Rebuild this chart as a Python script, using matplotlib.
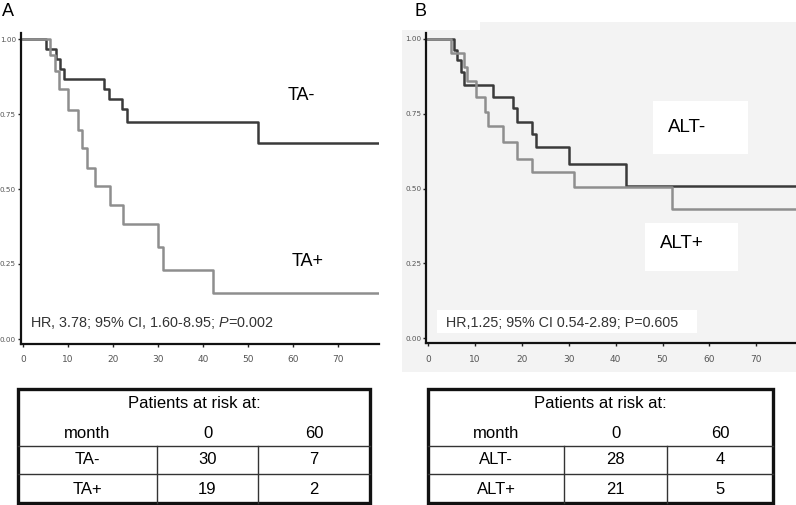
import matplotlib
matplotlib.use("Agg")
import matplotlib.pyplot as plt
from matplotlib.patches import Rectangle, Polygon

# ---------------- data ----------------
ta_neg_t = [0, 5, 7.3, 8.2, 9, 18, 19, 22, 23, 52.3, 79]
ta_neg_s = [1.0, 0.967, 0.933, 0.900, 0.867, 0.833, 0.800, 0.767, 0.724, 0.652, 0.652]
ta_pos_t = [0, 6, 7.1, 8.1, 10, 12.3, 13.2, 14.3, 16.1, 19.3, 22.3, 30.1, 31.2, 42.3, 79]
ta_pos_s = [1.0, 0.947, 0.895, 0.835, 0.765, 0.698, 0.636, 0.570, 0.510, 0.446, 0.382, 0.306, 0.229, 0.152, 0.152]

alt_neg_t = [0, 5.5, 6.1, 7.0, 7.6, 13.9, 18, 19, 22.1, 23, 30.1, 42.2, 79]
alt_neg_s = [1.0, 0.964, 0.929, 0.890, 0.846, 0.806, 0.768, 0.724, 0.682, 0.640, 0.582, 0.510, 0.510]
alt_pos_t = [0, 4.8, 7.7, 8.2, 10.2, 12.1, 12.8, 16, 19, 22.2, 31, 52, 79]
alt_pos_s = [1.0, 0.952, 0.906, 0.860, 0.807, 0.756, 0.710, 0.656, 0.600, 0.557, 0.505, 0.431, 0.431]

x_ticks = [0, 10, 20, 30, 40, 50, 60, 70]
y_ticks = [0.0, 0.25, 0.5, 0.75, 1.0]
y_ticklabels = ["0.00", "0.25", "0.50", "0.75", "1.00"]

table_a = [["TA-", "30", "7"], ["TA+", "19", "2"]]
table_b = [["ALT-", "28", "4"], ["ALT+", "21", "5"]]
table_header = ["month", "0", "60"]
table_title = "Patients at risk at:"

# ---------------- style ----------------
W, H = 796, 505
DARK = "#3a3a3a"
LIGHT = "#8e8e8e"
SANS = "Liberation Sans"
plt.rcParams["mathtext.fontset"] = "custom"
plt.rcParams["mathtext.it"] = "Liberation Sans:italic"
plt.rcParams["mathtext.rm"] = "Liberation Sans"

fig = plt.figure(figsize=(W / 100, H / 100), dpi=100)
fig.patch.set_facecolor("white")

bg = fig.add_axes([0, 0, 1, 1], zorder=-1)
bg.set_xlim(0, W)
bg.set_ylim(H, 0)
bg.axis("off")


def px_axes(x0, x1, y_top, y_bot):
    return fig.add_axes([x0 / W, (H - y_bot) / H, (x1 - x0) / W, (y_bot - y_top) / H])


def style_km(ax, xmax):
    ax.set_facecolor("none")
    ax.set_xlim(-0.5, xmax)
    ax.set_ylim(-0.015, 1.02)
    for s in ["top", "right"]:
        ax.spines[s].set_visible(False)
    for s in ["left", "bottom"]:
        ax.spines[s].set_linewidth(1.6)
        ax.spines[s].set_color("#111111")
    ax.set_xticks(x_ticks)
    ax.set_xticklabels([str(v) for v in x_ticks])
    ax.set_yticks(y_ticks)
    ax.set_yticklabels(y_ticklabels)
    ax.tick_params(axis="both", length=2.5, width=1, color="#222222", labelcolor="#555555")
    ax.tick_params(axis="x", labelsize=6.5, pad=6)
    ax.tick_params(axis="y", labelsize=5.2, pad=1)


# ---------------- panel B background ----------------
bg.add_patch(Polygon([(402, 30), (480, 30), (480, 22), (796, 22), (796, 372), (402, 372)],
                     closed=True, facecolor="#f3f3f3", edgecolor="none"))
for (x0, y0, x1, y1) in [(653, 101, 748, 154), (645, 223, 738, 271), (437, 310, 697, 333)]:
    bg.add_patch(Rectangle((x0, y0), x1 - x0, y1 - y0, facecolor="white", edgecolor="none"))

# ---------------- panel A ----------------
axA = px_axes(20.75, 378.5, 33, 343.5)
style_km(axA, 79)
axA.step(ta_neg_t, ta_neg_s, where="post", color=DARK, lw=1.8)
axA.step(ta_pos_t, ta_pos_s, where="post", color=LIGHT, lw=1.8)

# ---------------- panel B ----------------
axB = px_axes(426, 796, 33, 342.8)
style_km(axB, 78.5)
axB.step(alt_neg_t, alt_neg_s, where="post", color=DARK, lw=1.8)
axB.step(alt_pos_t, alt_pos_s, where="post", color=LIGHT, lw=1.8)

# ---------------- annotations ----------------
bg.text(2, 11, "A", fontsize=13, family=SANS, va="center", ha="left")
bg.text(415, 11, "B", fontsize=13, family=SANS, va="center", ha="left")
bg.text(288, 96, "TA-", fontsize=13, family=SANS, va="center", ha="left")
bg.text(292, 261, "TA+", fontsize=13, family=SANS, va="center", ha="left")
bg.text(30, 323, "HR, 3.78; 95% CI, 1.60-8.95; $\\it{P}$=0.002", fontsize=10.4, family=SANS,
        va="center", ha="left", color="#333333")
bg.text(668, 127, "ALT-", fontsize=13.5, family=SANS, va="center", ha="left")
bg.text(660, 243, "ALT+", fontsize=13.5, family=SANS, va="center", ha="left")
bg.text(446, 323, "HR,1.25; 95% CI 0.54-2.89; P=0.605", fontsize=10.3, family=SANS,
        va="center", ha="left", color="#333333")


# ---------------- risk tables ----------------
def risk_table(x0, x1, xa, xb, rows):
    y0, y1 = 389, 503
    h1, h2 = 446, 474
    bg.add_patch(Rectangle((x0, y0), x1 - x0, y1 - y0, facecolor="none",
                           edgecolor="#111111", lw=2.4))
    bg.plot([x0, x1], [h1, h1], color="#333333", lw=1)
    bg.plot([x0, x1], [h2, h2], color="#333333", lw=1)
    bg.plot([xa, xa], [h1, y1], color="#333333", lw=1)
    bg.plot([xb, xb], [h1, y1], color="#333333", lw=1)
    cx = [(x0 + xa) / 2, (xa + xb) / 2, (xb + x1) / 2]
    bg.text((x0 + x1) / 2, 404, table_title, fontsize=12, family=SANS, ha="center", va="center")
    for c, t in zip(cx, table_header):
        bg.text(c, 433, t, fontsize=12, family=SANS, ha="center", va="center")
    for ry, row in zip([460, 489], rows):
        for c, t in zip(cx, row):
            bg.text(c, ry, t, fontsize=12, family=SANS, ha="center", va="center")


risk_table(18, 370, 157, 258, table_a)
risk_table(428, 773, 564, 667, table_b)

fig.savefig("out.png", dpi=100, facecolor="white")
